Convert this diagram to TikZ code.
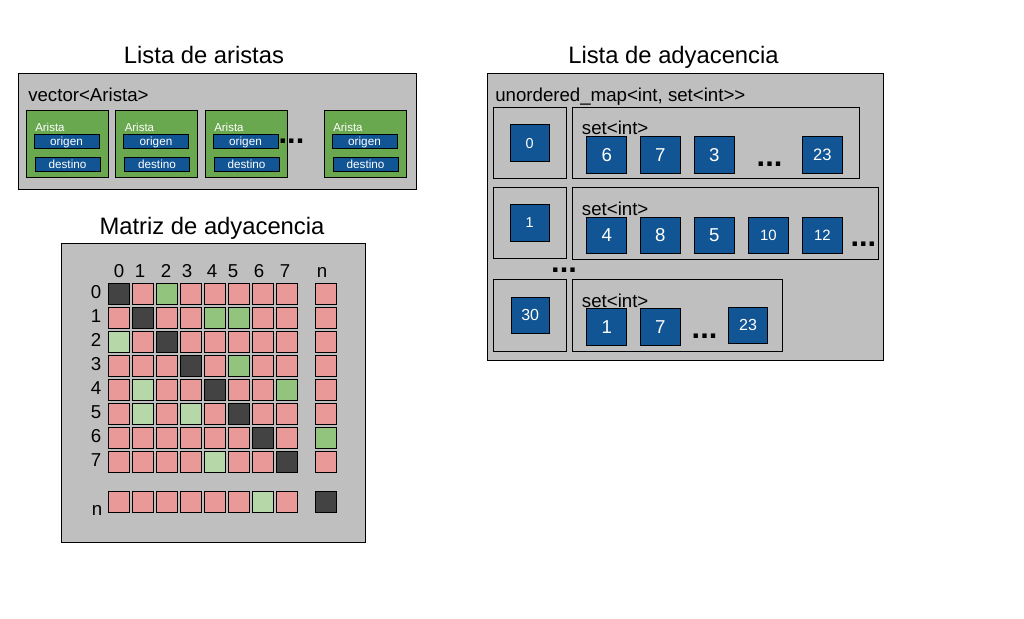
\documentclass[tikz,border=0pt]{standalone}
\usepackage{fontspec}
\setmainfont{Liberation Sans}
\usetikzlibrary{fit}
\definecolor{panelgray}{RGB}{191,191,191}
\definecolor{cr}{RGB}{234,153,153}
\definecolor{cd}{RGB}{67,67,67}
\definecolor{cg}{RGB}{147,196,125}
\definecolor{cl}{RGB}{182,215,168}
\definecolor{aristagreen}{RGB}{106,168,79}
\definecolor{boxblue}{RGB}{17,85,148}
\newcommand{\myfs}[1]{\fontsize{#1}{#1}\selectfont}
\newcommand{\mcell}[4]{\pgfmathsetmacro\xx{ifthenelse(#4==8,315.3,107.7+24*#4)}\node[cell, fill=c#3] (m#1-#4) at (\xx,#2) {};}
\newcommand{\bx}[7]{\node[bbox, fit={(#2,#3)(#4,#5)}] (#1) {};\node[btxt, font=\myfs{#6}] (#1t) at (#1.center) {#7};}
\begin{document}
\begin{tikzpicture}[x=0.75pt,y=-0.75pt,
  panel/.style={draw=black, fill=panelgray, line width=0.65pt, inner sep=0pt},
  sub/.style={draw=black, line width=0.65pt, inner sep=0pt},
  arbox/.style={draw=black, fill=aristagreen, line width=0.65pt, inner sep=0pt},
  bbox/.style={draw=black, fill=boxblue, line width=0.55pt, inner sep=0pt},
  btxt/.style={inner sep=0pt, text=white, text depth=0pt, anchor=center},
  cell/.style={draw=black, line width=0.6pt, minimum size=15.75pt, inner sep=0pt, anchor=north west},
  lbl/.style={inner sep=0pt, anchor=base},
  dotsl/.style={inner sep=0pt, anchor=base, font=\myfs{23}\bfseries},
  title/.style={inner sep=0pt, anchor=base, font=\myfs{17.85}}]
\path[use as bounding box, fill=white] (0,0) rectangle (1024,618);

% ---------- titles
\node[title] (t1) at (204,63.3) {Lista de aristas};
\node[title] (t2) at (212,234.5) {Matriz de adyacencia};
\node[title] (t3) at (673.5,63.3) {Lista de adyacencia};

% ---------- Lista de aristas
\node[panel, fit={(18,73)(416,189)}] (ap) {};
\node[lbl, anchor=base west, font=\myfs{14}] (vec) at (28,101.5) {vector<Arista>};
\foreach \xl [count=\i] in {26,115.5,205,324} {
  \node[arbox, fit={(\xl,110.5)({\xl+82},177.5)}] (ar\i) {};
  \node[lbl, anchor=base west, text=white, font=\myfs{8.6}] (arl\i) at ({\xl+9},131.5) {Arista};
  \bx{ori\i}{\xl+8}{134}{\xl+73}{148}{8.8}{origen}
  \bx{des\i}{\xl+9}{157}{\xl+74}{171}{8.8}{destino}
}
\node[dotsl] (d1) at (291.5,143) {...};

% ---------- Matriz de adyacencia
\node[panel, fit={(61,243)(365,542)}] (mp) {};
\foreach \xc/\t [count=\i] in {119/0,140/1,166/2,187/3,212/4,233/5,259/6,285/7,322/n}
  \node[lbl, font=\myfs{14}] (ch\i) at (\xc,277) {\t};
\foreach \r in {0,...,7}
  \node[lbl, anchor=base east, font=\myfs{14}] (rh\r) at (101.5,{298+24*\r}) {\r};
\node[lbl, anchor=base east, font=\myfs{14}] (rhn) at (102.5,515) {n};

\foreach \cc [count=\ci from 0] in {d,r,g,r,r,r,r,r,r} {\mcell{0}{283.3}{\cc}{\ci}}
\foreach \cc [count=\ci from 0] in {r,d,r,r,g,g,r,r,r} {\mcell{1}{307.3}{\cc}{\ci}}
\foreach \cc [count=\ci from 0] in {l,r,d,r,r,r,r,r,r} {\mcell{2}{331.3}{\cc}{\ci}}
\foreach \cc [count=\ci from 0] in {r,r,r,d,r,g,r,r,r} {\mcell{3}{355.3}{\cc}{\ci}}
\foreach \cc [count=\ci from 0] in {r,l,r,r,d,r,r,g,r} {\mcell{4}{379.3}{\cc}{\ci}}
\foreach \cc [count=\ci from 0] in {r,l,r,l,r,d,r,r,r} {\mcell{5}{403.3}{\cc}{\ci}}
\foreach \cc [count=\ci from 0] in {r,r,r,r,r,r,d,r,g} {\mcell{6}{427.3}{\cc}{\ci}}
\foreach \cc [count=\ci from 0] in {r,r,r,r,l,r,r,d,r} {\mcell{7}{451.3}{\cc}{\ci}}
\foreach \cc [count=\ci from 0] in {r,r,r,r,r,r,l,r,d} {\mcell{n}{491.3}{\cc}{\ci}}

% ---------- Lista de adyacencia
\node[panel, fit={(487,73)(883,360)}] (rp) {};
\node[lbl, anchor=base west, font=\myfs{14}] (um) at (495,101.5) {unordered\_map<int, set<int>\kern0pt>};

% row 1
\node[sub, fit={(493.3,107.7)(566.7,178.3)}] (k1) {};
\node[sub, fit={(572.3,107.7)(859.3,178.3)}] (s1) {};
\bx{kb1}{510}{124.3}{549.3}{161.7}{10.8}{0}
\node[lbl, anchor=base west, font=\myfs{14}] (sl1) at (581.7,134) {set<int>};
\bx{e11}{586.7}{136}{626.7}{173.3}{14}{6}
\bx{e12}{640.3}{136}{680.3}{173.3}{14}{7}
\bx{e13}{694.3}{136}{734.3}{173.3}{14}{3}
\node[dotsl] (d2) at (769.5,166.7) {...};
\bx{e14}{802.3}{136}{842.3}{173.3}{12.4}{23}

% row 2
\node[sub, fit={(493.3,187.3)(566.7,258.8)}] (k2) {};
\node[sub, fit={(572.3,187.3)(878.3,259)}] (s2) {};
\bx{kb2}{510}{204}{549.3}{241.7}{10.8}{1}
\node[lbl, anchor=base west, font=\myfs{14}] (sl2) at (581.7,215) {set<int>};
\bx{e21}{586.7}{217.3}{626.7}{253.3}{14}{4}
\bx{e22}{640.3}{217.3}{680.3}{253.3}{14}{8}
\bx{e23}{694.3}{217.3}{734.3}{253.3}{14}{5}
\bx{e24}{748.3}{217.3}{788.3}{253.3}{11.2}{10}
\bx{e25}{802.3}{217.3}{842.3}{253.3}{11.2}{12}
\node[dotsl] (d3) at (863.3,246.7) {...};

\node[dotsl] (d4) at (564,272.7) {...};

% row 3
\node[sub, fit={(493.3,279.3)(566.7,351.7)}] (k3) {};
\node[sub, fit={(572.3,279.3)(782.3,351.7)}] (s3) {};
\bx{kb3}{511}{297.3}{549.3}{333.3}{12}{30}
\node[lbl, anchor=base west, font=\myfs{14}] (sl3) at (581.7,307.3) {set<int>};
\bx{e31}{586.7}{308.3}{626.7}{345}{14}{1}
\bx{e32}{640.3}{308.3}{680.3}{345}{14}{7}
\node[dotsl] (d5) at (704.5,338.3) {...};
\bx{e33}{728.3}{307.3}{767.7}{343.3}{12}{23}
\end{tikzpicture}
\end{document}
